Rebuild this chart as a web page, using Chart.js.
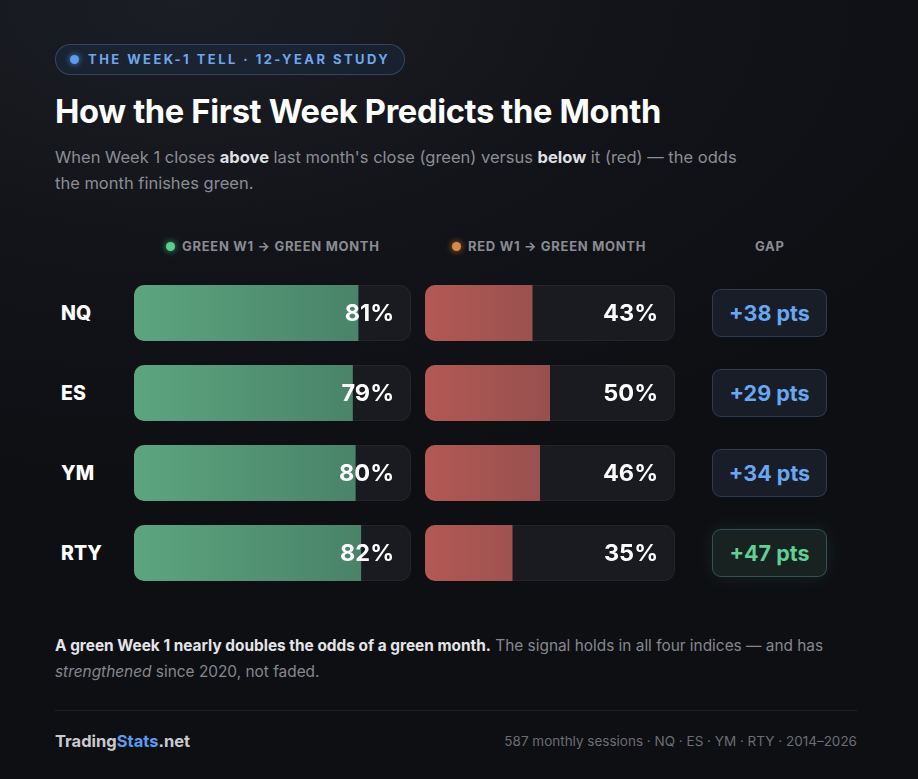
<!DOCTYPE html>
<html>
<head>
<meta charset="utf-8">
<script src="https://cdn.jsdelivr.net/npm/chart.js@4"></script>
<style>
  html, body { margin: 0; padding: 0; }
  body {
    width: 918px; height: 779px; overflow: hidden;
    font-family: Inter, "Noto Sans", sans-serif;
    background: radial-gradient(ellipse 900px 500px at 20% 0%, #1b1e25 0%, #121318 55%, #0e0f13 100%);
    color: #fff; position: relative;
  }
  .abs { position: absolute; }
  .pill {
    left: 55px; top: 44px; width: 348px; height: 29px;
    border: 1px solid rgba(90,140,210,0.35); border-radius: 16px;
    background: rgba(40,70,120,0.18);
  }
  .pill .dot { position: absolute; left: 14px; top: 10px; width: 9px; height: 9px; border-radius: 50%; background: #5b9cf0; box-shadow: 0 0 6px #4a8be0; }
  .pill .txt { position: absolute; left: 32px; top: 6px; font-size: 13px; font-weight: 700; letter-spacing: 2.45px; color: #6ea6ee; }
  h1 { position: absolute; left: 55px; top: 91px; margin: 0; font-size: 32.7px; font-weight: 700; letter-spacing: -0.35px; color: #fff; }
  .sub { left: 55px; top: 144px; width: 700px; font-size: 16.5px; line-height: 26px; color: #8b8d94; }
  .sub b { color: #dfe0e4; font-weight: 700; }
  .colh { top: 238px; font-size: 13px; font-weight: 700; letter-spacing: 0.7px; color: #8a8c93; }
  .colh i { display: inline-block; width: 9px; height: 9px; border-radius: 50%; margin-right: 7px; vertical-align: 0px; }
  .lbl { left: 61px; font-size: 19.5px; font-weight: 800; color: #fff; }
  .gap {
    left: 712px; width: 115px; height: 48px; border-radius: 9px; box-sizing: border-box;
    border: 1px solid rgba(110,140,190,0.28); background: #181d28;
    font-size: 21.5px; font-weight: 700; color: #6aa7f2; text-align: center; line-height: 46px;
  }
  .gap.best { color: #62cf94; background: #172221; border-color: rgba(100,150,170,0.4); box-shadow: 0 0 18px rgba(80,190,140,0.12); }
  .note { left: 55px; top: 633px; width: 805px; font-size: 15.4px; line-height: 26px; color: #85878e; }
  .note b { color: #e4e5e8; }
  .rule { left: 55px; top: 710px; width: 802px; height: 1px; background: #1f2127; }
  .brand { left: 55px; top: 731px; font-size: 16.5px; font-weight: 700; color: #c9cbd0; }
  .brand span { color: #5b9cf0; }
  .meta { right: 61px; top: 733px; font-size: 13.5px; color: #6b6d74; }
  canvas { display: block; }
</style>
</head>
<body>
<div class="abs pill"><div class="dot"></div><div class="txt">THE WEEK-1 TELL · 12-YEAR STUDY</div></div>
<h1>How the First Week Predicts the Month</h1>
<div class="abs sub">When Week 1 closes <b>above</b> last month's close (green) versus <b>below</b> it (red) — the odds the month finishes green.</div>

<div class="abs colh" style="left:166px"><i style="background:#5ccf8f;box-shadow:0 0 6px #3fae74"></i>GREEN W1 → GREEN MONTH</div>
<div class="abs colh" style="left:452px"><i style="background:#d98a45;box-shadow:0 0 6px #c0702c"></i>RED W1 → GREEN MONTH</div>
<div class="abs colh" style="left:755px">GAP</div>

<div id="labels"></div>
<div class="abs" style="left:134px; top:273px; width:277px; height:320px;"><canvas id="greenChart"></canvas></div>
<div class="abs" style="left:425px; top:273px; width:250px; height:320px;"><canvas id="redChart"></canvas></div>

<div class="abs note"><b>A green Week 1 nearly doubles the odds of a green month.</b> The signal holds in all four indices — and has <i>strengthened</i> since 2020, not faded.</div>
<div class="abs rule"></div>
<div class="abs brand">Trading<span>Stats</span>.net</div>
<div class="abs meta">587 monthly sessions · NQ · ES · YM · RTY · 2014–2026</div>

<script>
const indices = ['NQ', 'ES', 'YM', 'RTY'];
const greenW1 = [81, 79, 80, 82];
const redW1 = [43, 50, 46, 35];
const gapPts = [38, 29, 34, 47];

// Row labels and gap pills
const labelsBox = document.getElementById('labels');
indices.forEach((name, i) => {
  const top = 273 + i * 80;
  const l = document.createElement('div');
  l.className = 'abs lbl';
  l.style.top = (top + 28) + 'px';
  l.textContent = name;
  labelsBox.appendChild(l);

  const g = document.createElement('div');
  g.className = 'abs gap' + (gapPts[i] === Math.max(...gapPts) ? ' best' : '');
  g.style.top = (top + 16) + 'px';
  g.textContent = '+' + gapPts[i] + ' pts';
  labelsBox.appendChild(g);
});

function roundRect(ctx, x, y, w, h, r) {
  ctx.beginPath();
  ctx.moveTo(x + r, y);
  ctx.arcTo(x + w, y, x + w, y + h, r);
  ctx.arcTo(x + w, y + h, x, y + h, r);
  ctx.arcTo(x, y + h, x, y, r);
  ctx.arcTo(x, y, x + w, y, r);
  ctx.closePath();
}

// Track behind each bar + percentage label
const trackPlugin = {
  id: 'track',
  beforeDatasetsDraw(chart) {
    const { ctx, chartArea } = chart;
    chart.getDatasetMeta(0).data.forEach(bar => {
      const h = bar.height;
      ctx.save();
      roundRect(ctx, chartArea.left + 0.5, bar.y - h / 2 + 0.5, chartArea.width - 1, h - 1, 10);
      ctx.fillStyle = '#1a1b21';
      ctx.fill();
      ctx.strokeStyle = 'rgba(255,255,255,0.07)';
      ctx.lineWidth = 1;
      ctx.stroke();
      ctx.restore();
    });
  },
  afterDatasetsDraw(chart) {
    const { ctx, chartArea } = chart;
    const values = chart.data.datasets[0].data;
    chart.getDatasetMeta(0).data.forEach((bar, i) => {
      ctx.save();
      ctx.font = '700 23.5px Inter, sans-serif';
      ctx.fillStyle = '#ffffff';
      ctx.textAlign = 'right';
      ctx.textBaseline = 'middle';
      ctx.fillText(values[i] + '%', chartArea.right - 17, bar.y + 1);
      ctx.restore();
    });
  }
};

function makeChart(id, values, c1, c2) {
  const canvas = document.getElementById(id);
  return new Chart(canvas, {
    type: 'bar',
    data: {
      labels: indices,
      datasets: [{
        data: values,
        backgroundColor: (context) => {
          const area = context.chart.chartArea;
          if (!area) return c1;
          const g = context.chart.ctx.createLinearGradient(area.left, 0, area.right, 0);
          g.addColorStop(0, c1);
          g.addColorStop(1, c2);
          return g;
        },
        borderRadius: { topLeft: 10, bottomLeft: 10, topRight: 0, bottomRight: 0 },
        borderSkipped: false,
        barPercentage: 0.7,
        categoryPercentage: 1
      }]
    },
    options: {
      indexAxis: 'y',
      responsive: true,
      maintainAspectRatio: false,
      animation: false,
      layout: { padding: 0 },
      scales: {
        x: { display: false, min: 0, max: 100 },
        y: { display: false }
      },
      plugins: { legend: { display: false }, tooltip: { enabled: false } }
    },
    plugins: [trackPlugin]
  });
}

makeChart('greenChart', greenW1, '#5ca57f', '#457b63');
makeChart('redChart', redW1, '#b35855', '#7a4848');
</script>
</body>
</html>
